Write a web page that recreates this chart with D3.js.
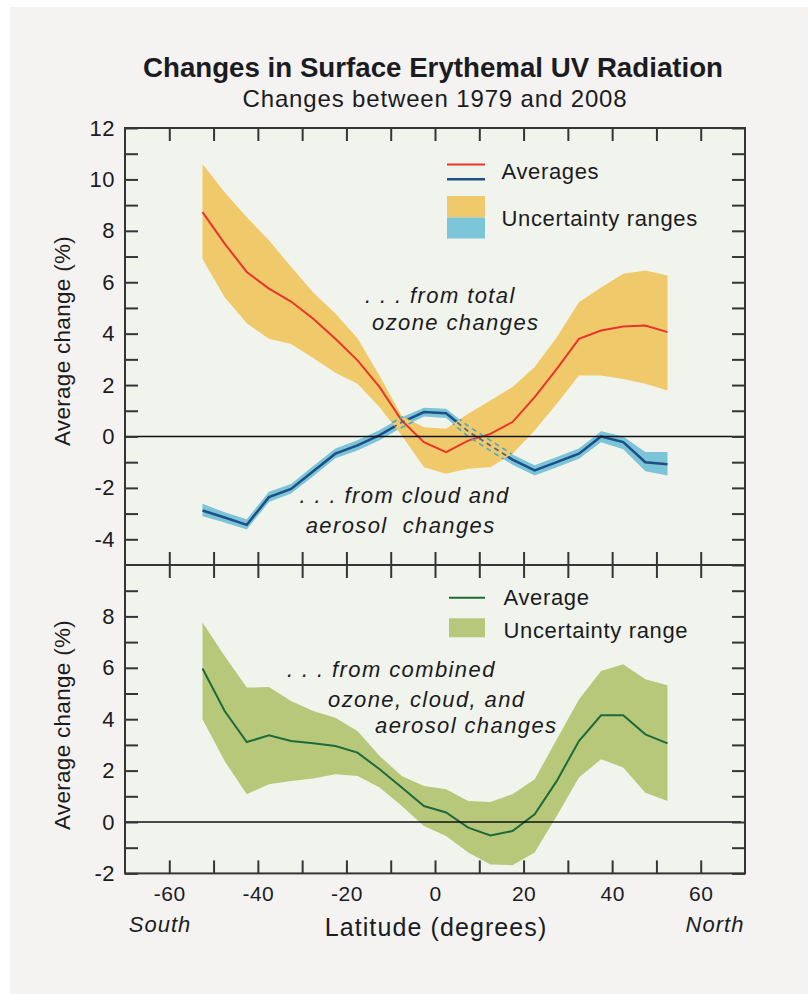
<!DOCTYPE html>
<html>
<head>
<meta charset="utf-8">
<script src="https://cdn.jsdelivr.net/npm/d3@7"></script>
<style>
  body { margin: 0; background: #ffffff; }
  text { font-family: "Liberation Sans", Arial, Helvetica, sans-serif; fill: #1b1b22; }
  .pre { white-space: pre; }
</style>
</head>
<body>
<div id="chart"></div>
<script>
// latitude band centres (degrees)
const latitudes = [-52.5, -47.5, -42.5, -37.5, -32.5, -27.5, -22.5, -17.5, -12.5, -7.5, -2.5,
                   2.5, 7.5, 12.5, 17.5, 22.5, 27.5, 32.5, 37.5, 42.5, 47.5, 52.5];

// ... from total ozone changes (%)
const ozoneAvg = [8.73, 7.5, 6.4, 5.75, 5.25, 4.58, 3.8, 2.96, 1.92, 0.62, -0.22,
                  -0.61, -0.16, 0.1, 0.56, 1.53, 2.63, 3.8, 4.12, 4.28, 4.32, 4.06];
const ozoneHi  = [10.6, 9.5, 8.53, 7.63, 6.6, 5.6, 4.78, 3.82, 2.35, 0.8, 0.36,
                  0.3, 0.88, 1.4, 1.92, 2.7, 3.86, 5.22, 5.8, 6.33, 6.46, 6.26];
const ozoneLo  = [6.9, 5.42, 4.4, 3.8, 3.6, 3.05, 2.48, 2.05, 1.14, 0.04, -1.2,
                  -1.45, -1.26, -1.2, -0.67, 0.23, 1.27, 2.37, 2.37, 2.24, 2.05, 1.79];

// ... from cloud and aerosol changes (%)
const cloudAvg = [-2.88, -3.15, -3.44, -2.36, -2.04, -1.35, -0.67, -0.35, 0.05, 0.55, 0.95,
                  0.9, 0.2, -0.35, -0.9, -1.32, -1.0, -0.67, 0.0, -0.22, -1.0, -1.08];
const cloudHi  = [-2.62, -2.95, -3.22, -2.15, -1.85, -1.15, -0.47, -0.15, 0.25, 0.75, 1.12,
                  1.08, 0.4, -0.15, -0.7, -1.12, -0.8, -0.47, 0.2, 0.0, -0.6, -0.6];
const cloudLo  = [-3.1, -3.35, -3.62, -2.55, -2.22, -1.55, -0.85, -0.55, -0.15, 0.35, 0.78,
                  0.72, 0.0, -0.55, -1.1, -1.52, -1.2, -0.87, -0.22, -0.5, -1.35, -1.52];

// ... from combined ozone, cloud and aerosol changes (%)
const combAvg = [5.97, 4.32, 3.11, 3.37, 3.15, 3.06, 2.96, 2.7, 2.05, 1.34, 0.62,
                 0.37, -0.22, -0.52, -0.35, 0.3, 1.6, 3.15, 4.15, 4.15, 3.41, 3.06];
const combHi  = [7.76, 6.46, 5.23, 5.25, 4.71, 4.32, 4.06, 3.54, 2.57, 1.79, 1.4,
                 1.27, 0.82, 0.78, 1.08, 1.66, 3.22, 4.77, 5.88, 6.14, 5.55, 5.32];
const combLo  = [4.0, 2.37, 1.08, 1.47, 1.6, 1.69, 1.86, 1.79, 1.34, 0.62, -0.16,
                 -0.54, -1.19, -1.65, -1.68, -1.19, 0.23, 1.73, 2.44, 2.12, 1.14, 0.82];

// axes
const xTicks = d3.range(-60, 61, 10);
const xLabelTicks = [-60, -40, -20, 0, 20, 40, 60];
const topTicks = d3.range(-5, 13);
const botTicks = d3.range(-2, 10);

const W = 808, H = 994;
const tickLen = 13;
const frameColor = "#353535";

const x = d3.scaleLinear().domain([-70, 70]).range([125, 745]);
const yTop = d3.scaleLinear().domain([-5, 12]).range([565, 128]);
const yBot = d3.scaleLinear().domain([-2, 10]).range([873.4, 565]);

const rows = (avg, lo, hi) => latitudes.map((lat, i) => ({ lat: lat, avg: avg[i], lo: lo[i], hi: hi[i] }));
const ozone = rows(ozoneAvg, ozoneLo, ozoneHi);
const cloud = rows(cloudAvg, cloudLo, cloudHi);
const comb = rows(combAvg, combLo, combHi);

const svg = d3.select("#chart").append("svg")
  .attr("width", W)
  .attr("height", H);

// page background
svg.append("rect").attr("width", W).attr("height", H).attr("fill", "#ffffff");
svg.append("rect").attr("x", 10).attr("y", 7).attr("width", W - 10).attr("height", H - 7).attr("fill", "#f4f3f1");

// plot background
svg.append("rect")
  .attr("x", x(-70)).attr("y", yTop(12))
  .attr("width", x(70) - x(-70)).attr("height", yBot(-2) - yTop(12))
  .attr("fill", "#f1f4ec");

function band(y) {
  return d3.area().x(d => x(d.lat)).y0(d => y(d.lo)).y1(d => y(d.hi));
}
function line(y, key) {
  return d3.line().x(d => x(d.lat)).y(d => y(d[key]));
}

// ---- top panel ----
const topPanel = svg.append("g");

svg.append("defs").append("clipPath").attr("id", "ozClip")
  .append("path").attr("d", band(yTop)(ozone));

topPanel.append("path").attr("d", band(yTop)(cloud)).attr("fill", "#7cc4d7");
topPanel.append("path").attr("d", line(yTop, "avg")(cloud))
  .attr("fill", "none").attr("stroke", "#1d4f88").attr("stroke-width", 2.5);

topPanel.append("path").attr("d", band(yTop)(ozone)).attr("fill", "#f0c96b");
topPanel.append("path").attr("d", line(yTop, "avg")(ozone))
  .attr("fill", "none").attr("stroke", "#e8352b").attr("stroke-width", 2);

// cloud curve seen through the ozone band: dashed
const hidden = topPanel.append("g").attr("clip-path", "url(#ozClip)");
["lo", "hi"].forEach(k => {
  hidden.append("path").attr("d", line(yTop, k)(cloud))
    .attr("fill", "none").attr("stroke", "#4aa9c9").attr("stroke-width", 1.6)
    .attr("stroke-dasharray", "5,4");
});
hidden.append("path").attr("d", line(yTop, "avg")(cloud))
  .attr("fill", "none").attr("stroke", "#48698c").attr("stroke-width", 1.8)
  .attr("stroke-dasharray", "5,4");

topPanel.append("line")
  .attr("x1", x(-70)).attr("x2", x(70))
  .attr("y1", yTop(0)).attr("y2", yTop(0))
  .attr("stroke", "#111").attr("stroke-width", 1.6);

// ---- bottom panel ----
const botPanel = svg.append("g");
botPanel.append("path").attr("d", band(yBot)(comb)).attr("fill", "#b8c87b");
botPanel.append("path").attr("d", line(yBot, "avg")(comb))
  .attr("fill", "none").attr("stroke", "#1d6a3b").attr("stroke-width", 2);
botPanel.append("line")
  .attr("x1", x(-70)).attr("x2", x(70) - 4)
  .attr("y1", yBot(0)).attr("y2", yBot(0))
  .attr("stroke", "#111").attr("stroke-width", 1.6);

// ---- axes ----
function styleAxis(g, fontSize) {
  g.select(".domain").remove();
  g.selectAll(".tick line").attr("stroke", frameColor).attr("stroke-width", 2);
  g.selectAll(".tick text")
    .attr("fill", "#1b1b22")
    .style("font-size", fontSize + "px")
    .style("letter-spacing", "0.5px")
    .style("font-family", '"Liberation Sans", Arial, sans-serif');
}
const evenFmt = d => (d % 2 === 0 ? String(d) : "");

svg.append("g").attr("transform", `translate(${x(-70)},0)`)
  .call(d3.axisLeft(yTop).tickValues(topTicks.filter(d => d > -5)).tickSize(-tickLen).tickPadding(10).tickFormat(evenFmt))
  .call(g => styleAxis(g, 22));
svg.append("g").attr("transform", `translate(${x(-70)},0)`)
  .call(d3.axisLeft(yBot).tickValues(botTicks).tickSize(-tickLen).tickPadding(10).tickFormat(evenFmt))
  .call(g => styleAxis(g, 22));
svg.append("g").attr("transform", `translate(${x(70)},0)`)
  .call(d3.axisRight(yTop).tickValues(topTicks).tickSize(-tickLen).tickFormat(""))
  .call(g => styleAxis(g, 22));
svg.append("g").attr("transform", `translate(${x(70)},0)`)
  .call(d3.axisRight(yBot).tickValues(botTicks).tickSize(-tickLen).tickFormat(""))
  .call(g => styleAxis(g, 22));

svg.append("g").attr("transform", `translate(0,${yTop(12)})`)
  .call(d3.axisTop(x).tickValues(xTicks).tickSize(-tickLen).tickFormat(""))
  .call(g => styleAxis(g, 21));
svg.append("g").attr("transform", `translate(0,${yTop(-5)})`)
  .call(d3.axisTop(x).tickValues(xTicks).tickSize(tickLen).tickFormat(""))
  .call(g => styleAxis(g, 21));
svg.append("g").attr("transform", `translate(0,${yBot(10)})`)
  .call(d3.axisBottom(x).tickValues(xTicks).tickSize(tickLen).tickFormat(""))
  .call(g => styleAxis(g, 21));
svg.append("g").attr("transform", `translate(0,${yBot(-2)})`)
  .call(d3.axisBottom(x).tickValues(xTicks).tickSize(-tickLen).tickPadding(12.5)
    .tickFormat(d => (xLabelTicks.includes(d) ? String(d) : "")))
  .call(g => styleAxis(g, 21));

// frame and panel divider
svg.append("rect")
  .attr("x", x(-70)).attr("y", yTop(12))
  .attr("width", x(70) - x(-70)).attr("height", yBot(-2) - yTop(12))
  .attr("fill", "none").attr("stroke", frameColor).attr("stroke-width", 2);
svg.append("line")
  .attr("x1", x(-70)).attr("x2", x(70))
  .attr("y1", yTop(-5)).attr("y2", yTop(-5))
  .attr("stroke", frameColor).attr("stroke-width", 2);

// ---- legends ----
const lg = svg.append("g").style("font-size", "22px").style("letter-spacing", "0.65px");
lg.append("line").attr("x1", 447).attr("x2", 485).attr("y1", 164.5).attr("y2", 164.5)
  .attr("stroke", "#e8352b").attr("stroke-width", 2);
lg.append("line").attr("x1", 447).attr("x2", 485).attr("y1", 179.3).attr("y2", 179.3)
  .attr("stroke", "#1d4f88").attr("stroke-width", 2.5);
lg.append("text").attr("x", 501.5).attr("y", 179).text("Averages");
lg.append("rect").attr("x", 447).attr("y", 196).attr("width", 38).attr("height", 21.5).attr("fill", "#f0c96b");
lg.append("rect").attr("x", 447).attr("y", 217.5).attr("width", 38).attr("height", 21).attr("fill", "#7cc4d7");
lg.append("text").attr("x", 501.5).attr("y", 226).text("Uncertainty ranges");

lg.append("line").attr("x1", 449).attr("x2", 485).attr("y1", 597.7).attr("y2", 597.7)
  .attr("stroke", "#1d6a3b").attr("stroke-width", 2);
lg.append("text").attr("x", 503.5).attr("y", 605).text("Average");
lg.append("rect").attr("x", 449).attr("y", 618.3).attr("width", 36).attr("height", 19).attr("fill", "#b8c87b");
lg.append("text").attr("x", 503.5).attr("y", 638.3).text("Uncertainty range");

// ---- annotations ----
const notes = [
  { t: ". . . from total", x: 365, y: 302.7 },
  { t: "ozone changes", x: 372, y: 330 },
  { t: ". . . from cloud and", x: 299.5, y: 503.3 },
  { t: "aerosol  changes", x: 305.7, y: 533.3 },
  { t: ". . . from combined", x: 287, y: 676.7 },
  { t: "ozone, cloud, and", x: 328, y: 706.7 },
  { t: "aerosol changes", x: 375, y: 733 }
];
svg.append("g").selectAll("text").data(notes).join("text")
  .attr("class", "pre")
  .attr("x", d => d.x).attr("y", d => d.y)
  .style("font-size", "22px").style("font-style", "italic").style("letter-spacing", "1.4px")
  .text(d => d.t);

// ---- titles ----
svg.append("text").attr("x", 433).attr("y", 77).attr("text-anchor", "middle")
  .style("font-size", "27.7px").style("font-weight", "bold")
  .text("Changes in Surface Erythemal UV Radiation");
svg.append("text").attr("x", 435).attr("y", 107).attr("text-anchor", "middle")
  .style("font-size", "24px").style("letter-spacing", "0.85px")
  .text("Changes between 1979 and 2008");

svg.append("text").attr("x", 436).attr("y", 936).attr("text-anchor", "middle")
  .style("font-size", "25px").style("letter-spacing", "1.1px")
  .text("Latitude (degrees)");
svg.append("text").attr("x", 160).attr("y", 931.5).attr("text-anchor", "middle")
  .style("font-size", "22px").style("font-style", "italic").style("letter-spacing", "1px")
  .text("South");
svg.append("text").attr("x", 715).attr("y", 931.5).attr("text-anchor", "middle")
  .style("font-size", "22px").style("font-style", "italic").style("letter-spacing", "1px")
  .text("North");

[341, 725].forEach(cy => {
  svg.append("text")
    .attr("transform", `translate(70,${cy}) rotate(-90)`)
    .attr("text-anchor", "middle")
    .style("font-size", "22.5px").style("letter-spacing", "0.3px")
    .text("Average change (%)");
});
</script>
</body>
</html>
